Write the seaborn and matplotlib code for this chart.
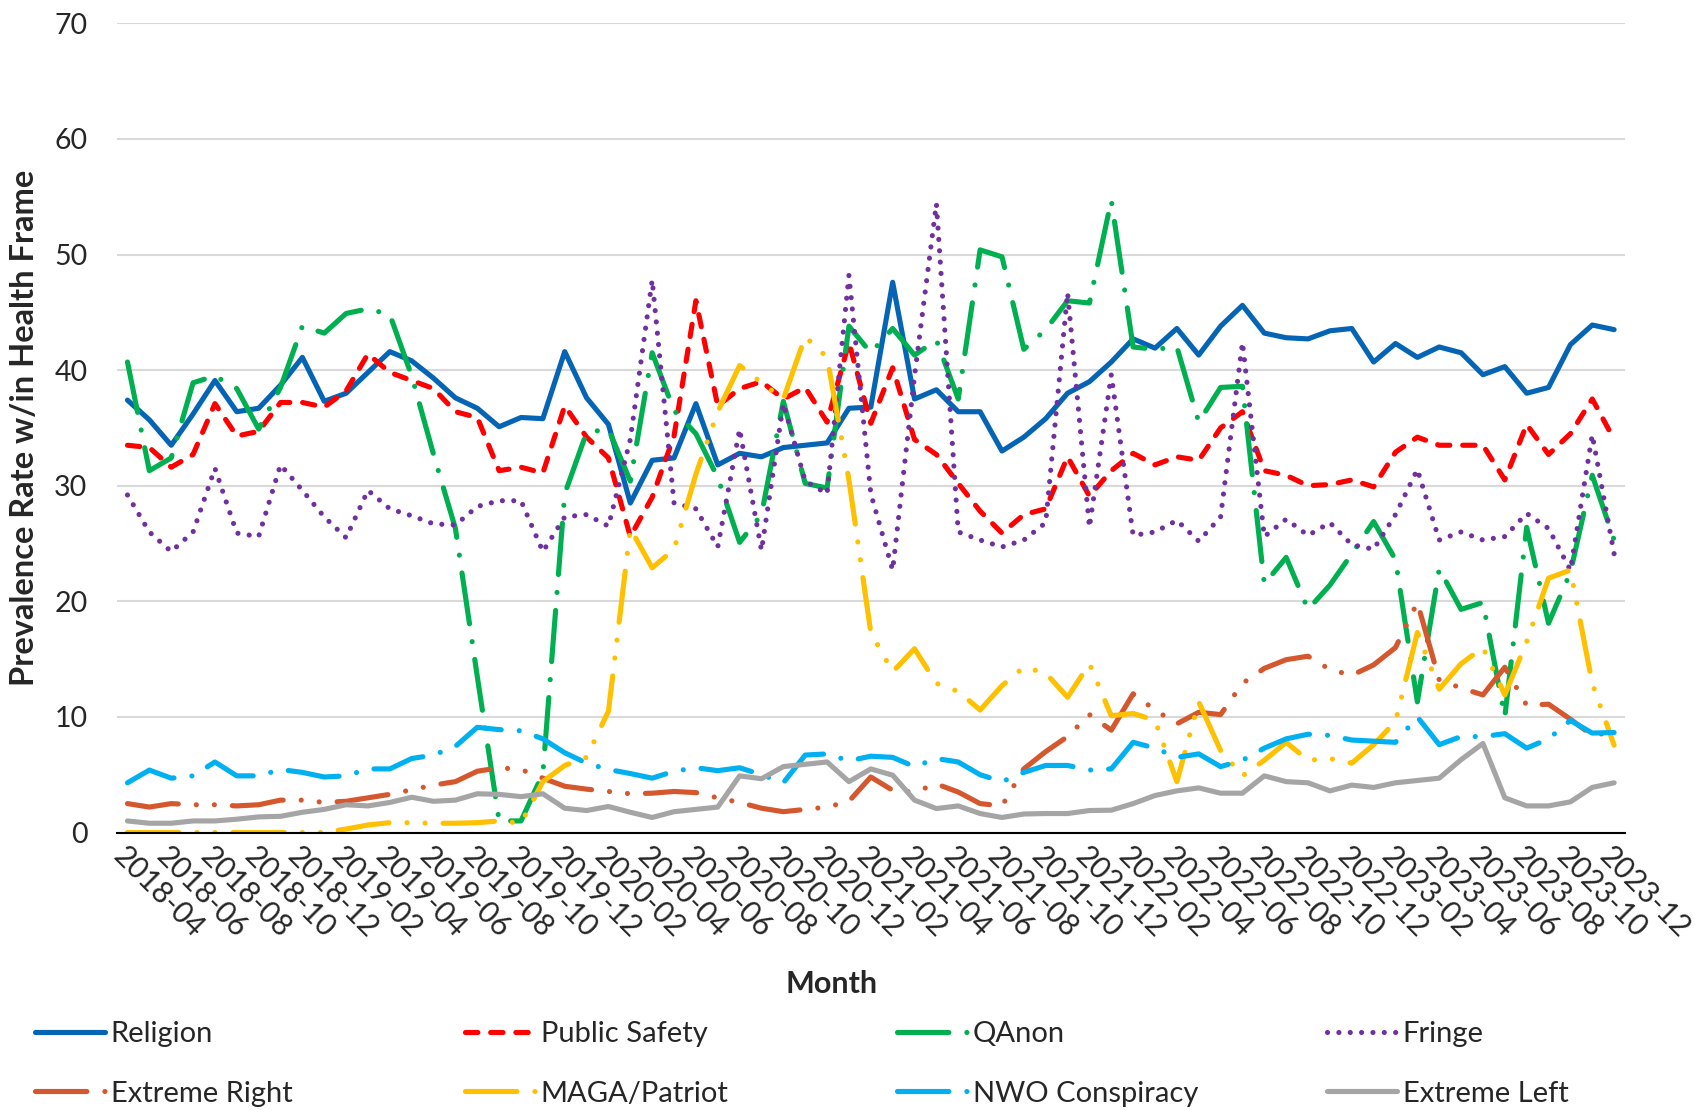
import numpy as np
import pandas as pd
import matplotlib.pyplot as plt
import seaborn as sns

# ------------------------------------------------------------
# Data, monthly 2018-04 .. 2023-12
# ------------------------------------------------------------
months = pd.period_range('2018-04', '2023-12', freq='M').strftime('%Y-%m').tolist()

series_names = ['Religion', 'Public Safety', 'QAnon', 'Fringe',
                'Extreme Right', 'MAGA/Patriot', 'NWO Conspiracy', 'Extreme Left']

religion = [
    37.4, 35.7, 33.5, 36.2, 39.1, 36.4, 36.7, 38.7, 41.1, 37.3, 38.0, 39.8,
    41.6, 40.8, 39.3, 37.6, 36.7, 35.1, 35.9, 35.8, 41.6, 37.6, 35.3, 28.5,
    32.2, 32.4, 37.1, 31.8, 32.8, 32.5, 33.3, 33.5, 33.7, 36.7, 36.8, 47.6,
    37.5, 38.3, 36.4, 36.4, 33.0, 34.2, 35.8, 38.0, 39.0, 40.7, 42.7, 41.9,
    43.6, 41.3, 43.8, 45.6, 43.2, 42.8, 42.7, 43.4, 43.6, 40.7, 42.3, 41.1,
    42.0, 41.5, 39.6, 40.3, 38.0, 38.5, 42.2, 43.9, 43.5]

public_safety = [
    33.5, 33.3, 31.6, 32.7, 37.1, 34.3, 34.7, 37.2, 37.2, 36.8, 38.2, 41.4,
    39.8, 39.1, 38.4, 36.4, 35.9, 31.3, 31.6, 31.1, 36.9, 34.2, 32.4, 25.6,
    29.0, 34.3, 46.0, 36.9, 38.4, 39.0, 37.5, 38.5, 35.5, 42.4, 35.4, 40.2,
    34.0, 32.7, 30.2, 27.8, 25.9, 27.5, 28.0, 32.5, 29.1, 31.3, 32.8, 31.8,
    32.5, 32.2, 35.0, 36.4, 31.3, 30.9, 30.0, 30.1, 30.5, 29.9, 32.9, 34.2,
    33.5, 33.5, 33.5, 30.5, 35.3, 32.7, 34.5, 37.5, 34.0]

qanon = [
    40.7, 31.3, 32.4, 38.9, 39.5, 38.4, 34.9, 38.5, 43.8, 43.2, 44.9, 45.3,
    44.8, 39.5, 32.7, 26.3, 13.5, 1.0, 1.0, 5.1, 29.3, 34.6, 34.9, 30.4,
    41.5, 36.5, 34.5, 30.7, 25.1, 27.5, 37.3, 30.2, 29.8, 43.8, 41.5, 43.6,
    41.3, 42.6, 37.5, 50.4, 49.8, 41.8, 43.5, 46.0, 45.8, 54.7, 42.0, 41.8,
    42.0, 35.5, 38.5, 38.6, 21.5, 23.8, 19.3, 21.4, 24.1, 26.9, 23.6, 11.3,
    22.8, 19.3, 19.9, 10.0, 26.4, 18.1, 22.5, 30.9, 25.3]

fringe = [
    29.2, 26.0, 24.3, 26.0, 31.5, 25.9, 25.6, 31.8, 29.6, 27.3, 25.5, 29.6,
    28.0, 27.4, 26.7, 26.6, 28.2, 28.7, 28.7, 24.3, 27.3, 27.5, 26.5, 34.0,
    47.8, 28.5, 28.0, 24.7, 34.9, 24.4, 37.1, 30.4, 29.3, 48.2, 29.3, 22.7,
    39.5, 54.4, 26.0, 25.3, 24.7, 25.3, 26.8, 46.7, 26.4, 39.6, 25.7, 26.0,
    27.0, 25.2, 27.3, 42.4, 25.6, 27.1, 25.7, 26.8, 24.9, 24.5, 27.5, 31.4,
    25.3, 26.0, 25.3, 25.6, 27.6, 26.3, 22.7, 34.4, 24.1]

extreme_right = [
    2.5, 2.2, 2.5, 2.4, 2.4, 2.3, 2.4, 2.8, 2.8, 2.6, 2.7, 3.0,
    3.3, 3.7, 4.1, 4.4, 5.3, 5.6, 5.45, 4.7, 4.0, 3.75, 3.55, 3.35,
    3.4, 3.55, 3.45, 3.0, 2.6, 2.1, 1.8, 2.0, 2.2, 2.7, 4.8, 3.65,
    3.5, 4.2, 3.5, 2.5, 2.3, 5.5, 7.0, 8.3, 10.2, 8.85, 12.0, 10.6,
    9.4, 10.4, 10.2, 12.9, 14.2, 14.95, 15.25, 14.1, 13.6, 14.5, 16.0, 19.9,
    13.2, 12.5, 11.9, 14.3, 11.0, 11.1, 9.8, 8.4, 8.7]

maga = [
    0.0, 0.0, 0.0, 0.0, 0.0, 0.0, 0.0, 0.0, 0.0, 0.0, 0.3, 0.65,
    0.85, 0.85, 0.8, 0.8, 0.85, 1.0, 0.8, 4.4, 5.8, 6.5, 10.5, 26.3,
    22.9, 24.5, 31.0, 36.4, 40.4, 38.9, 37.5, 42.9, 41.1, 30.5, 17.3, 13.9,
    15.9, 12.9, 12.2, 10.6, 12.7, 14.3, 13.8, 11.7, 14.6, 10.1, 10.3, 9.7,
    4.4, 11.3, 7.1, 4.9, 6.25, 7.8, 6.25, 6.4, 6.0, 7.6, 9.6, 17.3,
    12.4, 14.6, 16.0, 11.9, 16.5, 22.0, 22.7, 12.9, 7.55]

nwo = [
    4.3, 5.4, 4.7, 4.9, 6.1, 4.9, 4.9, 5.45, 5.2, 4.8, 4.9, 5.5,
    5.5, 6.4, 6.7, 7.45, 9.1, 8.9, 8.8, 8.1, 6.9, 6.0, 5.45, 5.1,
    4.7, 5.3, 5.6, 5.35, 5.6, 5.0, 4.3, 6.7, 6.8, 6.2, 6.6, 6.5,
    5.7, 6.4, 6.1, 5.0, 4.4, 5.2, 5.8, 5.8, 5.4, 5.5, 7.8, 7.3,
    6.5, 6.8, 5.7, 6.25, 7.3, 8.1, 8.5, 8.4, 8.0, 7.9, 7.8, 10.0,
    7.6, 8.3, 8.3, 8.55, 7.3, 8.1, 9.7, 8.6, 8.65]

extreme_left = [
    1.0, 0.8, 0.8, 1.0, 1.0, 1.15, 1.35, 1.4, 1.75, 2.0, 2.4, 2.3,
    2.6, 3.05, 2.7, 2.8, 3.35, 3.3, 3.1, 3.35, 2.1, 1.9, 2.25, 1.75,
    1.3, 1.8, 2.0, 2.2, 4.9, 4.65, 5.7, 5.9, 6.1, 4.4, 5.5, 4.96,
    2.8, 2.07, 2.3, 1.64, 1.3, 1.6, 1.64, 1.64, 1.9, 1.93, 2.5, 3.2,
    3.6, 3.86, 3.4, 3.4, 4.9, 4.4, 4.3, 3.6, 4.1, 3.9, 4.3, 4.5,
    4.7, 6.3, 7.7, 3.0, 2.3, 2.3, 2.65, 3.9, 4.3]

# ------------------------------------------------------------
# Long format for seaborn
# ------------------------------------------------------------
wide = pd.DataFrame({
    'idx': np.arange(len(months)),
    'Religion': religion,
    'Public Safety': public_safety,
    'QAnon': qanon,
    'Fringe': fringe,
    'Extreme Right': extreme_right,
    'MAGA/Patriot': maga,
    'NWO Conspiracy': nwo,
    'Extreme Left': extreme_left,
})
long_df = wide.melt(id_vars='idx', var_name='Series', value_name='Rate')

palette = {
    'Religion': '#0565B4',
    'Public Safety': '#FF0000',
    'QAnon': '#00B050',
    'Fringe': '#7030A0',
    'Extreme Right': '#D4572E',
    'MAGA/Patriot': '#FFC000',
    'NWO Conspiracy': '#00B0F0',
    'Extreme Left': '#A5A5A5',
}
# dash patterns in units of line width (round caps add ~1 lw to each dash)
dash_map = {
    'Religion': '',
    'Public Safety': (2.4, 2.5),
    'QAnon': (10, 3.5, 0.01, 3.5),
    'Fringe': (0.01, 2.2),
    'Extreme Right': (10, 3.5, 0.01, 3.5, 0.01, 3.5),
    'MAGA/Patriot': (10, 3.5, 0.01, 3.5, 0.01, 3.5),
    'NWO Conspiracy': (10, 3.5, 0.01, 3.5),
    'Extreme Left': '',
}

# ------------------------------------------------------------
# Plot
# ------------------------------------------------------------
sns.set_style('white')
plt.rcParams['font.family'] = ['Lato', 'DejaVu Sans']

fig = plt.figure(figsize=(16.94, 11.10), dpi=100)
ax = fig.add_axes([0.0688, 0.25, 0.8905, 0.729])

sns.lineplot(
    data=long_df, x='idx', y='Rate',
    hue='Series', style='Series',
    hue_order=series_names, style_order=series_names,
    palette=palette, dashes=dash_map,
    linewidth=3.7, dash_capstyle='round', solid_capstyle='round',
    errorbar=None, sort=False, legend=False, ax=ax,
)

# axes styling
ax.set_xlim(-0.5, len(months) - 0.5)
ax.set_ylim(0, 70)
ax.set_yticks(range(0, 71, 10))
ax.set_axisbelow(True)
ax.yaxis.grid(True, color='#D9D9D9', linewidth=1.5)
ax.xaxis.grid(False)
for side in ['left', 'right', 'top']:
    ax.spines[side].set_visible(False)
ax.spines['bottom'].set_color('black')
ax.spines['bottom'].set_linewidth(1.5)

ax.set_xticks(np.arange(0, len(months), 2))
ax.set_xticklabels(months[::2], rotation=-45, ha='left', va='top',
                   rotation_mode='anchor', fontsize=21.5)
ax.set_xticks(np.arange(-0.5, len(months), 1), minor=True)
ax.tick_params(axis='x', which='major', length=0, pad=7)
ax.tick_params(axis='x', which='minor', length=15, width=1.4,
               direction='inout', color='black')
ax.tick_params(axis='y', length=0, pad=21, labelsize=20.5)

ax.set_xlabel('Month', fontsize=22, fontweight='bold')
ax.xaxis.set_label_coords(0.474, -0.187)
ax.xaxis.label.set_va('center')
ax.set_ylabel('Prevalence Rate w/in Health Frame', fontsize=23.5, fontweight='bold')
ax.yaxis.set_label_coords(-0.0607, 0.5)
ax.yaxis.label.set_va('center')

# legend: 4 equally spaced columns, 2 rows
lines = ax.get_lines()
col_x = [35, 465, 897, 1327]
for j, x0 in enumerate(col_x):
    hs = [lines[j], lines[j + 4]]
    fig.legend(hs, [series_names[j], series_names[j + 4]],
               loc='upper left', bbox_to_anchor=(x0 / 1694, 1 - 1021 / 1110),
               frameon=False, fontsize=21, handlelength=2.4,
               handletextpad=0.2, labelspacing=1.15,
               borderpad=0, borderaxespad=0)

fig.savefig('out.png', dpi=100)
